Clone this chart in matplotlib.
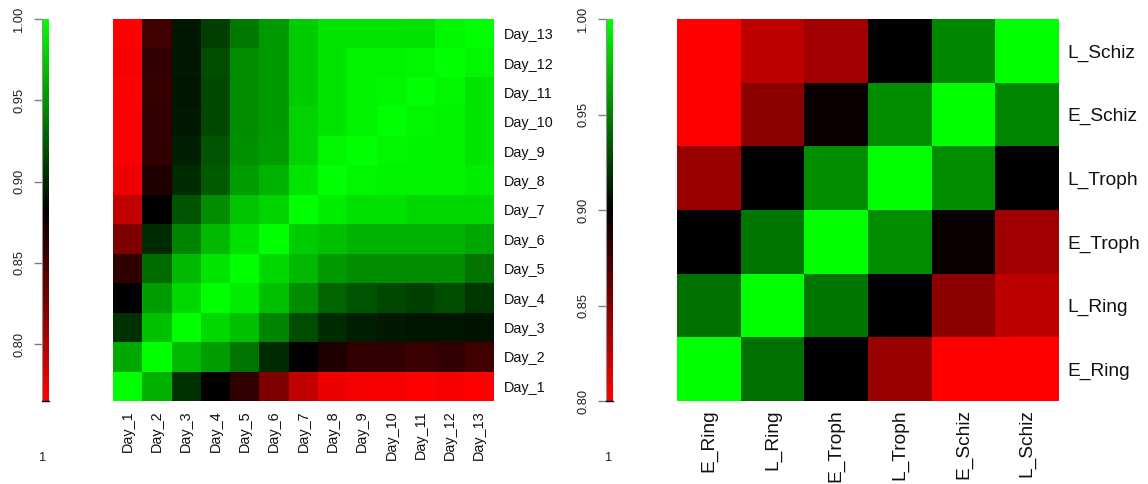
import numpy as np
import matplotlib
matplotlib.use("Agg")
import matplotlib.pyplot as plt
from matplotlib.colors import LinearSegmentedColormap, Normalize

plt.rcParams['font.family'] = ['Liberation Sans', 'DejaVu Sans']

# ---------------- data ----------------
days = ["Day_%d" % i for i in range(1, 14)]
# rows: Day_1 (bottom) ... Day_13 (top); columns Day_1 ... Day_13
day_corr = [
    [1.000, 0.964, 0.905, 0.882, 0.860, 0.824, 0.794, 0.773, 0.770, 0.768, 0.765, 0.768, 0.765],  # Day_1
    [0.960, 1.000, 0.967, 0.955, 0.935, 0.902, 0.882, 0.868, 0.859, 0.859, 0.855, 0.859, 0.853],  # Day_2
    [0.905, 0.971, 1.000, 0.982, 0.971, 0.944, 0.918, 0.902, 0.897, 0.894, 0.892, 0.892, 0.891],  # Day_3
    [0.882, 0.955, 0.982, 1.000, 0.991, 0.971, 0.947, 0.929, 0.921, 0.915, 0.912, 0.918, 0.908],  # Day_4
    [0.861, 0.932, 0.967, 0.988, 1.000, 0.982, 0.967, 0.953, 0.947, 0.947, 0.947, 0.947, 0.935],  # Day_5
    [0.824, 0.902, 0.944, 0.967, 0.986, 1.000, 0.977, 0.971, 0.965, 0.965, 0.965, 0.965, 0.959],  # Day_6
    [0.794, 0.882, 0.921, 0.947, 0.973, 0.980, 1.000, 0.991, 0.986, 0.986, 0.982, 0.982, 0.982],  # Day_7
    [0.773, 0.868, 0.902, 0.924, 0.955, 0.965, 0.988, 1.000, 0.996, 0.994, 0.994, 0.994, 0.991],  # Day_8
    [0.767, 0.859, 0.897, 0.921, 0.949, 0.955, 0.979, 0.996, 1.000, 0.996, 0.995, 0.994, 0.988],  # Day_9
    [0.767, 0.859, 0.894, 0.915, 0.947, 0.953, 0.979, 0.988, 0.994, 1.000, 0.996, 0.994, 0.988],  # Day_10
    [0.765, 0.857, 0.892, 0.915, 0.947, 0.953, 0.977, 0.988, 0.994, 0.996, 1.000, 0.996, 0.988],  # Day_11
    [0.768, 0.859, 0.894, 0.918, 0.947, 0.953, 0.977, 0.988, 0.994, 0.994, 0.996, 1.000, 0.996],  # Day_12
    [0.765, 0.853, 0.893, 0.911, 0.938, 0.953, 0.977, 0.988, 0.988, 0.988, 0.987, 0.996, 1.000],  # Day_13
]

stages = ["E_Ring", "L_Ring", "E_Troph", "L_Troph", "E_Schiz", "L_Schiz"]
stage_corr = [
    [1.000, 0.944, 0.900, 0.840, 0.800, 0.800],  # E_Ring
    [0.944, 1.000, 0.946, 0.900, 0.845, 0.826],  # L_Ring
    [0.900, 0.946, 1.000, 0.955, 0.896, 0.837],  # E_Troph
    [0.840, 0.900, 0.955, 1.000, 0.955, 0.900],  # L_Troph
    [0.800, 0.845, 0.896, 0.955, 1.000, 0.953],  # E_Schiz
    [0.800, 0.826, 0.837, 0.900, 0.953, 1.000],  # L_Schiz
]
cbar_ticks = [0.80, 0.85, 0.90, 0.95, 1.00]

# ---------------- figure ----------------
W, H = 1148, 484
fig = plt.figure(figsize=(W / 100, H / 100), dpi=100)
cmap = LinearSegmentedColormap.from_list("redgreen", ["#ff0000", "#000000", "#00ff00"], N=256)


def box(x0, x1, y0, y1):
    return [x0 / W, 1 - y1 / H, (x1 - x0) / W, (y1 - y0) / H]


def panel(mat, labels, cb_box, hm_box, fs_lab, pad_lab):
    mat = np.array(mat)
    norm = Normalize(vmin=mat.min(), vmax=mat.max())
    ax = fig.add_axes(hm_box)
    im = ax.imshow(mat, cmap=cmap, norm=norm, origin="lower",
                   aspect="auto", interpolation="nearest")
    n = len(labels)
    ax.set_xticks(range(n))
    ax.set_xticklabels(labels, rotation=90, fontsize=fs_lab, color="#111111")
    ax.set_yticks(range(n))
    ax.set_yticklabels(labels, fontsize=fs_lab, color="#111111")
    ax.yaxis.tick_right()
    ax.tick_params(axis="both", length=0, pad=pad_lab)
    for s in ax.spines.values():
        s.set_visible(False)

    cax = fig.add_axes(cb_box)
    cb = fig.colorbar(im, cax=cax)
    cb.outline.set_visible(False)
    cax.yaxis.set_ticks_position("left")
    cax.yaxis.set_label_position("left")
    cb.set_ticks(cbar_ticks)
    cb.set_ticklabels(["%.2f" % t for t in cbar_ticks])
    cax.set_ylim(mat.min(), mat.max())
    cax.tick_params(axis="y", length=6, width=1, color="#808080", pad=6,
                    labelsize=9.3, labelcolor="#222222")
    for lab in cax.get_yticklabels():
        lab.set_rotation(90)
        lab.set_va("center")
    cax.spines["left"].set_visible(True)
    cax.spines["left"].set_color("#909090")
    cax.spines["left"].set_linewidth(0.8)
    cax.spines["bottom"].set_visible(True)
    cax.spines["bottom"].set_color("#000000")
    cax.spines["bottom"].set_linewidth(1.0)
    return ax, cax


panel(day_corr, days, box(42, 49, 19, 401), box(113, 494, 19, 401), 10.4, 7)
panel(stage_corr, stages, box(606, 613, 19, 401), box(677, 1059, 19, 401), 13.8, 6)

fig.text(43 / W, 1 - 458 / H, "1", ha="center", va="center", fontsize=9.3, color="#222222")
fig.text(609 / W, 1 - 458 / H, "1", ha="center", va="center", fontsize=9.3, color="#222222")

fig.savefig("out.png", dpi=100)
